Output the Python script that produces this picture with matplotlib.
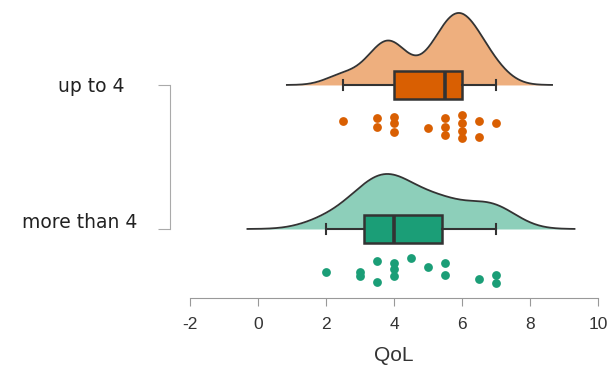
import numpy as np
import matplotlib.pyplot as plt
from matplotlib.transforms import ScaledTranslation

# groups (top to bottom)
groups = ["up to 4", "more than 4"]

# QoL values
up_vals = [2.5, 3.5, 3.5, 4, 4, 4, 5, 5.5, 5.5, 5.5, 6, 6, 6, 6, 6.5, 6.5, 7]
up_jit = [0.248, 0.229, 0.292, 0.222, 0.264, 0.326, 0.299, 0.229, 0.292, 0.347,
          0.208, 0.264, 0.319, 0.368, 0.25, 0.361, 0.264]
more_vals = [2, 3, 3, 3.5, 3.5, 4, 4, 4, 4.5, 5, 5.5, 5.5, 6.5, 7, 7]
more_jit = [0.299, 0.299, 0.326, 0.222, 0.368, 0.236, 0.278, 0.326, 0.201, 0.264,
            0.236, 0.319, 0.347, 0.319, 0.375]

# box stats: whislo, q1, med, q3, whishi
up_box = [2.5, 4.0, 5.5, 6.0, 7.0]
more_box = [2.0, 3.12, 4.0, 5.4, 7.0]

xticks = [-2, 0, 2, 4, 6, 8, 10]

dark = ["#D95F02", "#1B9E77"]
light = ["#EEAF7E", "#8DCFBA"]
bws = [0.5, 0.7]
heights = [0.5, 0.382]


def kde(vals, bw):
    v = np.asarray(vals, float)
    g = np.linspace(v.min() - 3.3 * bw, v.max() + 3.3 * bw, 400)
    d = np.exp(-0.5 * ((g[:, None] - v[None, :]) / bw) ** 2).sum(axis=1)
    return g, d / d.max()


fig = plt.figure(figsize=(6.11, 3.72), dpi=100)
ax = fig.add_axes([0.2998, 0.199, 0.690, 0.801])

data = [(up_vals, up_jit, up_box), (more_vals, more_jit, more_box)]
pos = [1, 0]
for i, (vals, jit, bs) in enumerate(data):
    y0 = pos[i]
    g, d = kde(vals, bws[i])
    ax.fill_between(g, y0, y0 + d * heights[i], color=light[i], lw=0, zorder=1)
    ax.plot(g, y0 + d * heights[i], color="#333333", lw=1.3, zorder=2)
    ax.bxp([dict(whislo=bs[0], q1=bs[1], med=bs[2], q3=bs[3], whishi=bs[4])],
           positions=[y0], widths=0.2, vert=False, showfliers=False,
           patch_artist=True,
           boxprops=dict(facecolor=dark[i], edgecolor="#333333", lw=1.8),
           medianprops=dict(color="#333333", lw=2.6),
           whiskerprops=dict(color="#333333", lw=1.5),
           capprops=dict(color="#333333", lw=1.5), capwidths=0.07,
           manage_ticks=False, zorder=3)
    ax.scatter(vals, y0 - np.asarray(jit), s=40, color=dark[i], lw=0, zorder=3)

ax.set_xlim(-2.2, 10.2)
ax.set_ylim(-0.479, 1.59)
for s in ["top", "right"]:
    ax.spines[s].set_visible(False)
ax.spines["left"].set_position(("outward", 9.4))
ax.spines["left"].set_bounds(0, 1)
ax.spines["bottom"].set_bounds(-2, 10)
ax.spines["left"].set_color("#AAAAAA")
ax.spines["bottom"].set_color("#999999")
ax.tick_params(axis="y", length=8.6, color="#AAAAAA", pad=24.5,
               labelsize=13.5, labelcolor="#222222", labelfontfamily="DejaVu Sans")
ax.tick_params(axis="x", length=6, color="#999999", pad=8,
               labelsize=12.5, labelcolor="#333333", labelfontfamily="Liberation Sans")

ax.set_xticks(xticks)
ax.set_xticklabels([str(t) for t in xticks])
ax.set_yticks(pos)
ax.set_yticklabels(groups)
ax.set_xlabel("QoL", fontsize=15, family="Liberation Sans", color="#333333",
              labelpad=10)

# the lower label sits a little higher and further right in the original
lab = ax.get_yticklabels()[1]
lab.set_transform(lab.get_transform() + ScaledTranslation(0.13, 0.08, fig.dpi_scale_trans))

fig.savefig("out.png", dpi=100)
